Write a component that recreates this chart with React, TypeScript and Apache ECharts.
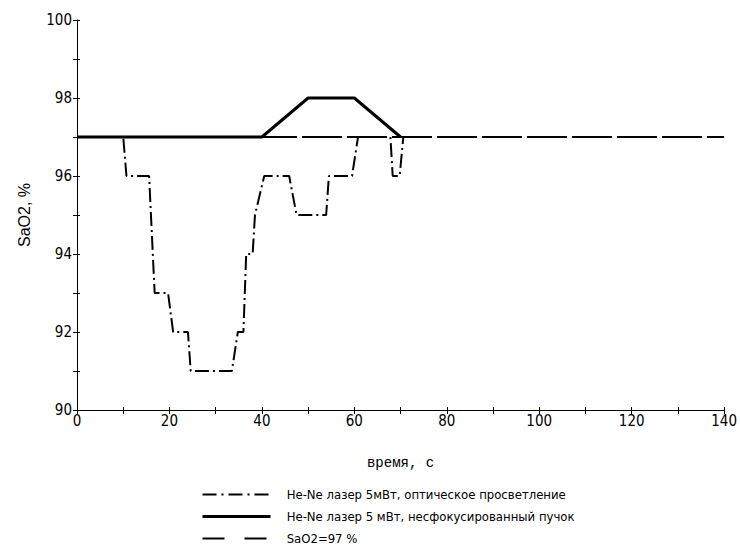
import React, { useEffect, useRef } from "react";
import * as echarts from "echarts";

const seriesNames = [
  "He-Ne лазер 5мВт, оптическое просветление",
  "He-Ne лазер 5 мВт, несфокусированный пучок",
  "SaO2=97 %",
];

// dash-dot series (time s, SaO2 %)
const laserOpticT = [0, 10, 10.7, 15.6, 16.8, 19.7, 20.8, 24, 24.6, 33.5, 34.8, 36, 36.6, 38, 38.5, 40.5, 45.9, 47.5, 53.9, 54.5, 59.5, 60.8, 67.8, 68.3, 69.8, 70.6];
const laserOpticV = [97, 97, 96, 96, 93, 93, 92, 92, 91, 91, 92, 92, 94, 94, 95, 96, 96, 95, 95, 96, 96, 97, 97, 96, 96, 97];

// solid thick series
const laserBeamT = [0, 40, 50, 60, 70];
const laserBeamV = [97, 97, 98, 98, 97];

// reference level
const refT = [0, 140];
const refV = [97, 97];

const xMin = 0, xMax = 140, xStep = 10;
const yMin = 90, yMax = 100, yStep = 1;

const zip = (a: number[], b: number[]) => a.map((v, i) => [v, b[i]]);

const narrow = "'DejaVu Sans Condensed', 'Liberation Sans Narrow', 'Arial Narrow', 'Liberation Sans', Arial, sans-serif";

export default function App() {
  const ref = useRef<HTMLDivElement>(null);
  useEffect(() => {
    document.body.style.margin = "0";
    const chart = echarts.init(ref.current!, null, { renderer: "svg" });
    chart.setOption({
      animation: false,
      backgroundColor: "#fff",
      grid: { left: 77, right: 13, top: 20, bottom: 139 },
      legend: {
        orient: "vertical",
        left: 196,
        top: 483,
        height: 90,
        itemWidth: 68,
        itemHeight: 14,
        itemGap: 9,
        itemStyle: { opacity: 0 },
        formatter: (n: string) => "   " + n,
        textStyle: { fontFamily: narrow, fontSize: 13, color: "#000" },
        data: [
          { name: seriesNames[0], lineStyle: { type: [14, 5, 2, 5], width: 2, color: "#000" } },
          { name: seriesNames[1], lineStyle: { width: 3, color: "#000" } },
          { name: seriesNames[2], lineStyle: { type: [22, 20], width: 2, color: "#000" } },
        ],
      },
      xAxis: [
        {
          type: "value",
          min: xMin,
          max: xMax,
          interval: xStep,
          name: "время, с",
          nameLocation: "middle",
          nameGap: 46,
          nameTextStyle: { fontFamily: "'Liberation Mono', 'DejaVu Sans Mono', monospace", fontSize: 14, color: "#000" },
          axisLine: { lineStyle: { color: "#000", width: 1 } },
          axisTick: { length: 4, lineStyle: { color: "#000" } },
          axisLabel: {
            fontFamily: narrow,
            fontSize: 15,
            color: "#000",
            margin: 3,
            formatter: (v: number) => (v % 20 === 0 ? String(v) : ""),
          },
          splitLine: { show: false },
        },
        {
          type: "value",
          min: xMin,
          max: xMax,
          interval: xStep,
          position: "bottom",
          axisLine: { show: false },
          axisTick: { inside: true, length: 3, lineStyle: { color: "#000" } },
          axisLabel: { show: false },
          splitLine: { show: false },
        },
      ],
      yAxis: [
        {
          type: "value",
          min: yMin,
          max: yMax,
          interval: yStep,
          name: "SaO2, %",
          nameLocation: "middle",
          nameGap: 45,
          nameTextStyle: { fontFamily: "'Liberation Sans', Arial, sans-serif", fontSize: 16, color: "#000" },
          axisLine: { show: true, lineStyle: { color: "#000", width: 1 } },
          axisTick: { show: true, length: 4, lineStyle: { color: "#000" } },
          axisLabel: {
            fontFamily: narrow,
            fontSize: 15,
            color: "#000",
            margin: 5,
            formatter: (v: number) => (v % 2 === 0 ? String(v) : ""),
          },
          splitLine: { show: false },
        },
        {
          type: "value",
          min: yMin,
          max: yMax,
          interval: yStep,
          position: "left",
          axisLine: { show: false },
          axisTick: { show: true, inside: true, length: 3, lineStyle: { color: "#000" } },
          axisLabel: { show: false },
          splitLine: { show: false },
        },
      ],
      series: [
        {
          name: seriesNames[0],
          type: "line",
          data: zip(laserOpticT, laserOpticV),
          symbol: "none",
          z: 3,
          lineStyle: { color: "#000", width: 2, type: [14, 4, 2, 4] },
          itemStyle: { color: "#000" },
        },
        {
          name: seriesNames[1],
          type: "line",
          data: zip(laserBeamT, laserBeamV),
          symbol: "none",
          z: 4,
          lineStyle: { color: "#000", width: 3 },
          itemStyle: { color: "#000" },
        },
        {
          name: seriesNames[2],
          type: "line",
          data: zip(refT, refV),
          symbol: "none",
          z: 2,
          lineStyle: { color: "#000", width: 2, type: [40, 5] },
          itemStyle: { color: "#000" },
        },
      ],
    });
    return () => chart.dispose();
  }, []);
  return <div ref={ref} style={{ width: 740, height: 549 }} />;
}
